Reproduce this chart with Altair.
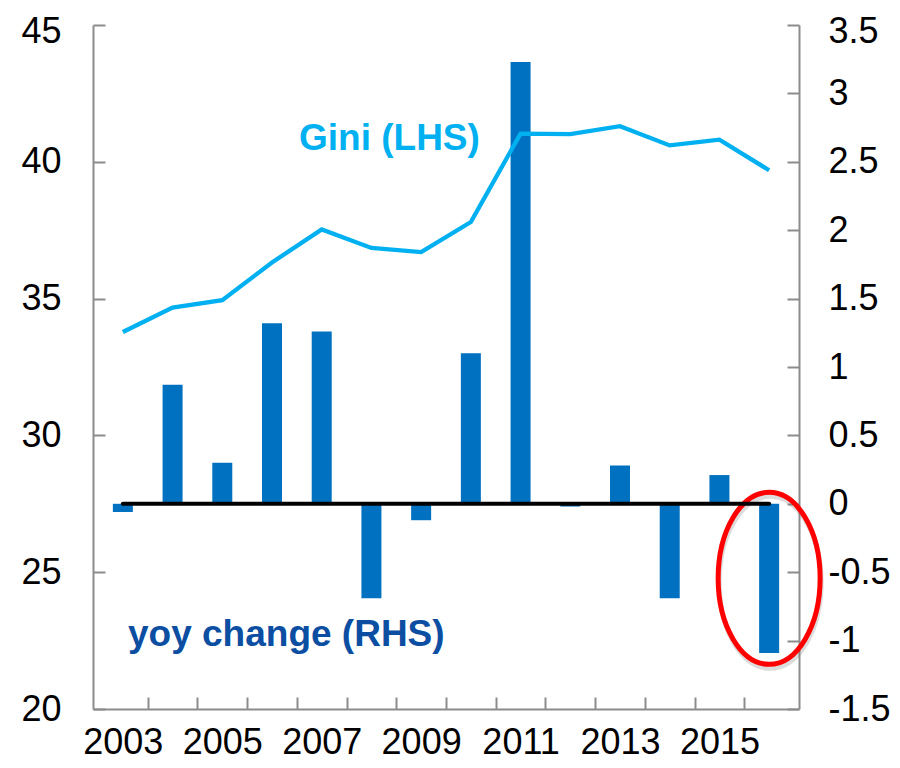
import altair as alt
import pandas as pd

# ---- data ----
years = [2003, 2004, 2005, 2006, 2007, 2008, 2009, 2010, 2011, 2012, 2013, 2014, 2015, 2016]
gini = [33.78, 34.67, 34.94, 36.32, 37.53, 36.85, 36.70, 37.80, 41.03, 41.01, 41.30, 40.60, 40.81, 39.69]
yoy = [-0.06, 0.87, 0.30, 1.32, 1.26, -0.69, -0.12, 1.10, 3.23, -0.02, 0.28, -0.69, 0.21, -1.09]
left_ticks = [20, 25, 30, 35, 40, 45]
right_ticks = [-1.5, -1, -0.5, 0, 0.5, 1, 1.5, 2, 2.5, 3, 3.5]
x_labels = [2003, 2005, 2007, 2009, 2011, 2013, 2015]
x_tick_marks = [2003.5, 2004.5, 2005.5, 2006.5, 2007.5, 2008.5, 2009.5,
                2010.5, 2011.5, 2012.5, 2013.5, 2014.5, 2015.5]
gini_label = ["Gini (LHS)"]
yoy_label = ["yoy change (RHS)"]

FONT = "Liberation Sans"
GRAY = "#8c8c8c"
BAR = "#0070C0"
LINE = "#00B0F0"
DARK = "#0B4EA2"

df = pd.DataFrame({"year": years, "gini": gini, "yoy": yoy})

x_scale = alt.Scale(domain=[min(years) - 0.5, max(years) + 0.5], nice=False, zero=False)
x_axis = alt.Axis(
    values=sorted(x_labels + x_tick_marks), title=None, grid=False,
    labelExpr="datum.value % 1 == 0 ? datum.value + '' : ''",
    tickOpacity={"condition": {"test": "datum.value % 1 == 0", "value": 0}, "value": 1},
    tickSize={"expr": "-12"}, tickWidth=2, tickColor=GRAY,
    domainColor=GRAY, domainWidth=2,
    labelFont=FONT, labelFontSize=36, labelColor="black", labelPadding=28,
    labelFlush=False, labelOverlap=False, labelBound=False,
)


def xenc(field="year:Q"):
    return alt.X(field, scale=x_scale, axis=x_axis)


left_axis = alt.Axis(
    orient="left", values=left_ticks, title=None, grid=False,
    labelExpr="datum.value + ''",
    labelOffset={"condition": {"test": f"datum.value == {max(left_ticks)}", "value": 6}, "value": 0},
    tickSize={"expr": "-12"}, tickWidth=2, tickColor=GRAY,
    domainColor=GRAY, domainWidth=2,
    labelFont=FONT, labelFontSize=36, labelColor="black", labelPadding=44,
    labelOverlap=False, labelBound=False, labelFlush=False,
)
right_axis = alt.Axis(
    orient="right", values=right_ticks, title=None, grid=False,
    labelExpr="datum.value + ''",
    labelOffset={"condition": {"test": f"datum.value == {max(right_ticks)}", "value": 6}, "value": 0},
    tickSize={"expr": "-12"}, tickWidth=2, tickColor=GRAY,
    domainColor=GRAY, domainWidth=2,
    labelFont=FONT, labelFontSize=36, labelColor="black", labelPadding=41,
    labelOverlap=False, labelBound=False, labelFlush=False,
)
left_scale = alt.Scale(domain=[min(left_ticks), max(left_ticks)], nice=False, zero=False)
right_scale = alt.Scale(domain=[min(right_ticks), max(right_ticks)], nice=False, zero=False)

base = alt.Chart(df)

bars = base.mark_bar(size=20, color=BAR).encode(
    x=xenc(),
    y=alt.Y("yoy:Q", scale=right_scale, axis=right_axis),
)

zero_rule = base.mark_rule(color="black", strokeWidth=4, strokeCap="round").encode(
    x=xenc("min(year):Q"),
    x2=alt.X2("max(year)"),
    y=alt.datum(0, scale=right_scale, axis=right_axis),
)

ELLIPSE = ("M 0 -1.686 C 0.5523 -1.686 1 -0.9312 1 0 C 1 0.9312 0.5523 1.686 0 1.686 "
           "C -0.5523 1.686 -1 0.9312 -1 0 C -1 -0.9312 -0.5523 -1.686 0 -1.686 Z")

last = base.transform_joinaggregate(last_year="max(year)").transform_filter(
    "datum.year == datum.last_year"
).transform_calculate(mid="datum.yoy / 2")

shadow = last.mark_point(
    shape=ELLIPSE, size=10404, filled=False, color="#777777", opacity=0.25,
    strokeWidth=5, xOffset=1, yOffset=4,
).encode(
    x=xenc(),
    y=alt.Y("mid:Q", scale=right_scale, axis=right_axis),
)

ellipse = last.mark_point(
    shape=ELLIPSE, size=10404, filled=False, color="#FF0000", opacity=1, strokeWidth=5,
).encode(
    x=xenc(),
    y=alt.Y("mid:Q", scale=right_scale, axis=right_axis),
)

right_layer = alt.layer(bars, shadow, ellipse, zero_rule)

line = base.mark_line(color=LINE, strokeWidth=4.3).encode(
    x=xenc(),
    y=alt.Y("gini:Q", scale=left_scale, axis=left_axis),
)

gini_text = alt.Chart(pd.DataFrame({"t": gini_label})).mark_text(
    font=FONT, fontSize=37, fontWeight="bold", color=LINE, align="left", baseline="alphabetic",
).encode(text="t:N", x=alt.value(206), y=alt.value(124.5))

yoy_text = alt.Chart(pd.DataFrame({"t": yoy_label})).mark_text(
    font=FONT, fontSize=37, fontWeight="bold", color=DARK, align="left", baseline="alphabetic",
).encode(text="t:N", x=alt.value(35), y=alt.value(621))

chart = alt.layer(right_layer, line, gini_text, yoy_text).resolve_scale(
    y="independent"
).properties(
    width=706, height=684,
    autosize=alt.AutoSizeParams(type="none"),
    padding={"left": 85, "top": 17, "right": 93, "bottom": 51},
    background="white",
).configure_view(strokeWidth=0)

chart.save("out.html", embed_options={"renderer": "svg", "actions": False})
